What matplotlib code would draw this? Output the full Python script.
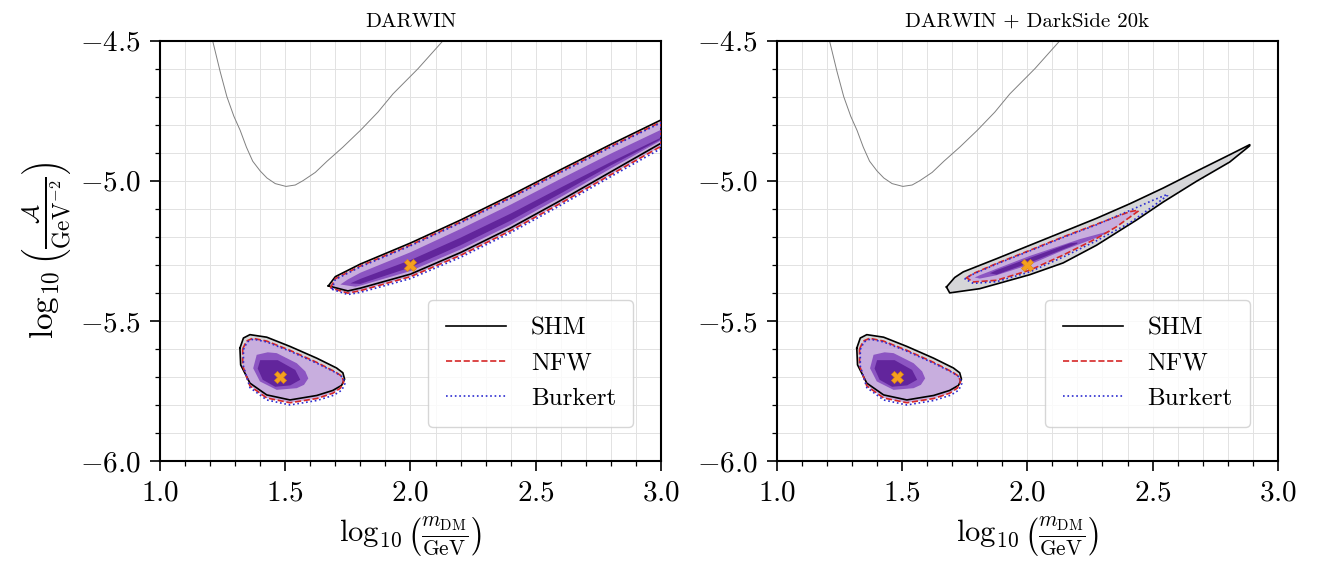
import matplotlib
matplotlib.use("Agg")
import matplotlib.pyplot as plt
from matplotlib.ticker import MultipleLocator

plt.rcParams['font.family'] = 'serif'
plt.rcParams['font.serif'] = ['cmr10', 'DejaVu Serif']
plt.rcParams['mathtext.fontset'] = 'cm'
plt.rcParams['axes.formatter.use_mathtext'] = True

# thin grey curve (same in both panels)
curve_x = [1.21, 1.24, 1.267, 1.295, 1.32, 1.345, 1.37, 1.40, 1.427, 1.46, 1.503, 1.54, 1.57, 1.62,
           1.667, 1.73, 1.80, 1.87, 1.93, 2.03, 2.13]
curve_y = [-4.50, -4.61, -4.70, -4.77, -4.82, -4.88, -4.93, -4.965, -4.99, -5.01, -5.02, -5.015, -5.00, -4.97,
           -4.93, -4.88, -4.82, -4.755, -4.69, -4.60, -4.50]

# best fit points
best_x = [2.0, 1.48]
best_y = [-5.30, -5.70]

# low mass island (same in both panels), closed outlines
isl_shm_x = [1.319, 1.333, 1.359, 1.426, 1.519, 1.626, 1.705, 1.730, 1.737, 1.725, 1.690, 1.626, 1.519, 1.426, 1.359, 1.322]
isl_shm_y = [-5.597, -5.561, -5.549, -5.558, -5.591, -5.633, -5.668, -5.685, -5.708, -5.730, -5.748, -5.766, -5.782, -5.764, -5.722, -5.657]
isl_nfw_x = [1.330, 1.345, 1.370, 1.426, 1.519, 1.626, 1.700, 1.727, 1.733, 1.720, 1.690, 1.626, 1.519, 1.426, 1.359, 1.330]
isl_nfw_y = [-5.600, -5.572, -5.562, -5.572, -5.605, -5.648, -5.682, -5.698, -5.718, -5.740, -5.758, -5.777, -5.792, -5.775, -5.732, -5.660]
isl_bur_x = [1.333, 1.348, 1.372, 1.426, 1.519, 1.626, 1.703, 1.731, 1.738, 1.726, 1.694, 1.626, 1.519, 1.426, 1.359, 1.333]
isl_bur_y = [-5.602, -5.575, -5.565, -5.575, -5.608, -5.651, -5.685, -5.702, -5.724, -5.747, -5.765, -5.784, -5.800, -5.782, -5.738, -5.662]
isl_in_x = [1.386, 1.430, 1.466, 1.546, 1.580, 1.592, 1.575, 1.546, 1.466, 1.399, 1.372]
isl_in_y = [-5.621, -5.612, -5.615, -5.651, -5.680, -5.705, -5.728, -5.740, -5.746, -5.716, -5.669]
isl_core_x = [1.40, 1.47, 1.54, 1.56, 1.52, 1.46, 1.41, 1.39]
isl_core_y = [-5.64, -5.64, -5.675, -5.71, -5.73, -5.735, -5.71, -5.67]

# DARWIN band: tip, upper edge, lower edge
d_shm_tip = (1.672, -5.375)
d_shm_ux = [1.70, 1.80, 2.0, 2.2, 2.4, 2.6, 2.8, 3.0]
d_shm_uy = [-5.342, -5.297, -5.222, -5.140, -5.052, -4.960, -4.870, -4.783]
d_shm_lx = [1.75, 1.80, 2.0, 2.2, 2.4, 2.6, 2.8, 3.0]
d_shm_ly = [-5.393, -5.383, -5.333, -5.256, -5.168, -5.070, -4.968, -4.866]
d_nfw_tip = (1.680, -5.382)
d_nfw_uy = [-5.349, -5.304, -5.229, -5.147, -5.059, -4.967, -4.877, -4.790]
d_nfw_ly = [-5.401, -5.392, -5.342, -5.266, -5.178, -5.080, -4.978, -4.877]
d_bur_tip = (1.686, -5.387)
d_bur_uy = [-5.352, -5.307, -5.232, -5.150, -5.062, -4.970, -4.880, -4.793]
d_bur_ly = [-5.406, -5.398, -5.349, -5.273, -5.185, -5.087, -4.985, -4.885]
d_in_tip = (1.72, -5.37)
d_in_ux = [1.75, 1.80, 2.0, 2.2, 2.4, 2.6, 2.8, 3.0]
d_in_uy = [-5.352, -5.328, -5.255, -5.172, -5.085, -4.993, -4.903, -4.818]
d_in_lx = [1.78, 1.80, 2.0, 2.2, 2.4, 2.6, 2.8, 3.0]
d_in_ly = [-5.378, -5.374, -5.322, -5.245, -5.157, -5.058, -4.956, -4.856]
d_core_tip = (1.76, -5.366)
d_core_x = [1.80, 2.0, 2.2, 2.4, 2.6, 2.8, 3.0]
d_core_uy = [-5.350, -5.283, -5.203, -5.117, -5.024, -4.933, -4.846]
d_core_ly = [-5.368, -5.309, -5.230, -5.142, -5.045, -4.945, -4.852]

# DARWIN + DarkSide 20k band
k_shm_tip = (1.677, -5.379)
k_shm_ux = [1.710, 1.744, 1.877, 2.010, 2.143, 2.276, 2.409, 2.542, 2.675, 2.808, 2.888]
k_shm_uy = [-5.345, -5.325, -5.278, -5.230, -5.182, -5.134, -5.082, -5.026, -4.966, -4.907, -4.871]
k_shm_lx = [1.690, 1.810, 2.010, 2.143, 2.276, 2.436, 2.542, 2.675, 2.808, 2.888]
k_shm_ly = [-5.400, -5.385, -5.335, -5.293, -5.230, -5.140, -5.076, -5.002, -4.933, -4.875]
k_nfw_tip = (1.757, -5.346)
k_nfw_ux = [1.784, 1.877, 2.010, 2.143, 2.276, 2.409, 2.443]
k_nfw_uy = [-5.331, -5.295, -5.248, -5.200, -5.155, -5.110, -5.105]
k_nfw_lx = [1.784, 1.877, 2.010, 2.143, 2.276, 2.356, 2.443]
k_nfw_ly = [-5.361, -5.355, -5.319, -5.265, -5.206, -5.164, -5.108]
k_bur_tip = (1.750, -5.350)
k_bur_x = [1.784, 1.877, 2.010, 2.143, 2.276, 2.409, 2.50, 2.56]
k_bur_uy = [-5.333, -5.297, -5.250, -5.202, -5.157, -5.106, -5.070, -5.048]
k_bur_ly = [-5.366, -5.360, -5.325, -5.272, -5.214, -5.150, -5.092, -5.052]
k_in_tip = (1.79, -5.345)
k_in_ux = [1.810, 2.010, 2.210, 2.330]
k_in_uy = [-5.337, -5.268, -5.208, -5.179]
k_in_lx = [1.810, 1.877, 2.010, 2.143, 2.276, 2.330]
k_in_ly = [-5.349, -5.337, -5.299, -5.248, -5.203, -5.182]
k_core_tip = (1.85, -5.33)
k_core_x = [1.877, 2.010, 2.170, 2.20]
k_core_uy = [-5.319, -5.275, -5.223, -5.220]
k_core_ly = [-5.335, -5.292, -5.235, -5.224]

C_GREY = '#d6d6d8'
C_LAV = '#c8aede'
C_PURP = '#8c55c2'
C_DARK = '#62259c'


def outline(tip, ux, uy, lx, ly):
    # closed polygon: tip -> upper edge -> lower edge back
    xs = [tip[0]] + list(ux) + list(lx)[::-1] + [tip[0]]
    ys = [tip[1]] + list(uy) + list(ly)[::-1] + [tip[1]]
    return xs, ys


def draw_panel(ax, shm, nfw, bur, inner, core, title):
    ax.set_xlim(1.0, 3.0)
    ax.set_ylim(-6.0, -4.5)
    ax.xaxis.set_major_locator(MultipleLocator(0.5))
    ax.xaxis.set_minor_locator(MultipleLocator(0.1))
    ax.yaxis.set_major_locator(MultipleLocator(0.5))
    ax.yaxis.set_minor_locator(MultipleLocator(0.1))
    ax.grid(True, which='both', color='#e2e2e2', lw=0.7, zorder=0)
    ax.set_axisbelow(True)

    ax.plot(curve_x, curve_y, color='#808080', lw=0.7, zorder=2)

    # island
    ax.fill(isl_shm_x, isl_shm_y, color=C_GREY, lw=0, zorder=2)
    ax.fill(isl_nfw_x, isl_nfw_y, color=C_LAV, lw=0, zorder=3)
    ax.fill(isl_in_x, isl_in_y, color=C_PURP, lw=0, zorder=4)
    ax.fill(isl_core_x, isl_core_y, color=C_DARK, lw=0, zorder=5)
    ax.plot(isl_shm_x + isl_shm_x[:1], isl_shm_y + isl_shm_y[:1], color='black', lw=1.2, zorder=6)
    ax.plot(isl_nfw_x + isl_nfw_x[:1], isl_nfw_y + isl_nfw_y[:1], color='#d62728', lw=1.2, ls='--', zorder=7)
    ax.plot(isl_bur_x + isl_bur_x[:1], isl_bur_y + isl_bur_y[:1], color='#2b2bd0', lw=1.2, ls=':', zorder=8)

    # band
    ax.fill(*shm, color=C_GREY, lw=0, zorder=2)
    ax.fill(*nfw, color=C_LAV, lw=0, zorder=3)
    ax.fill(*inner, color=C_PURP, lw=0, zorder=4)
    ax.fill(*core, color=C_DARK, lw=0, zorder=5)
    ax.plot(*shm, color='black', lw=1.2, zorder=6, label='SHM')
    ax.plot(*nfw, color='#d62728', lw=1.2, ls='--', zorder=7, label='NFW')
    ax.plot(*bur, color='#2b2bd0', lw=1.2, ls=':', zorder=8, label='Burkert')

    ax.plot(best_x, best_y, ls='none', marker='X', ms=8, color='#f5a020', mec='#e08a10', mew=0.5, zorder=9)

    ax.set_title(title, fontsize=15, pad=10)
    ax.set_xlabel(r'$\log_{10}\left(\frac{m_{\rm DM}}{\rm GeV}\right)$', fontsize=22, labelpad=6)
    ax.tick_params(which='major', labelsize=21, length=7, width=1.2, pad=7)
    ax.tick_params(which='minor', length=3.5, width=0.9)
    for sp in ax.spines.values():
        sp.set_linewidth(1.5)
    ax.legend(loc='lower right', bbox_to_anchor=(0.945, 0.08), borderaxespad=0,
              fontsize=18, handlelength=2.4, handletextpad=1.0, labelspacing=0.5,
              borderpad=0.7, framealpha=0.8, edgecolor='#cccccc')


fig = plt.figure(figsize=(13.28, 5.65), dpi=100)
ax1 = fig.add_axes([0.1205, 0.184, 0.3772, 0.744])
ax2 = fig.add_axes([0.585, 0.184, 0.3772, 0.744])

draw_panel(ax1,
           outline(d_shm_tip, d_shm_ux, d_shm_uy, d_shm_lx, d_shm_ly),
           outline(d_nfw_tip, d_shm_ux, d_nfw_uy, d_shm_lx, d_nfw_ly),
           outline(d_bur_tip, d_shm_ux, d_bur_uy, d_shm_lx, d_bur_ly),
           outline(d_in_tip, d_in_ux, d_in_uy, d_in_lx, d_in_ly),
           outline(d_core_tip, d_core_x, d_core_uy, d_core_x, d_core_ly),
           'DARWIN')
draw_panel(ax2,
           outline(k_shm_tip, k_shm_ux, k_shm_uy, k_shm_lx, k_shm_ly),
           outline(k_nfw_tip, k_nfw_ux, k_nfw_uy, k_nfw_lx, k_nfw_ly),
           outline(k_bur_tip, k_bur_x, k_bur_uy, k_bur_x, k_bur_ly),
           outline(k_in_tip, k_in_ux, k_in_uy, k_in_lx, k_in_ly),
           outline(k_core_tip, k_core_x, k_core_uy, k_core_x, k_core_ly),
           'DARWIN + DarkSide 20k')

ax1.set_ylabel(r'$\log_{10}\left(\frac{\mathcal{A}}{\mathrm{GeV}^{-2}}\right)$', fontsize=24, labelpad=4)

fig.savefig('out.png', dpi=100)
